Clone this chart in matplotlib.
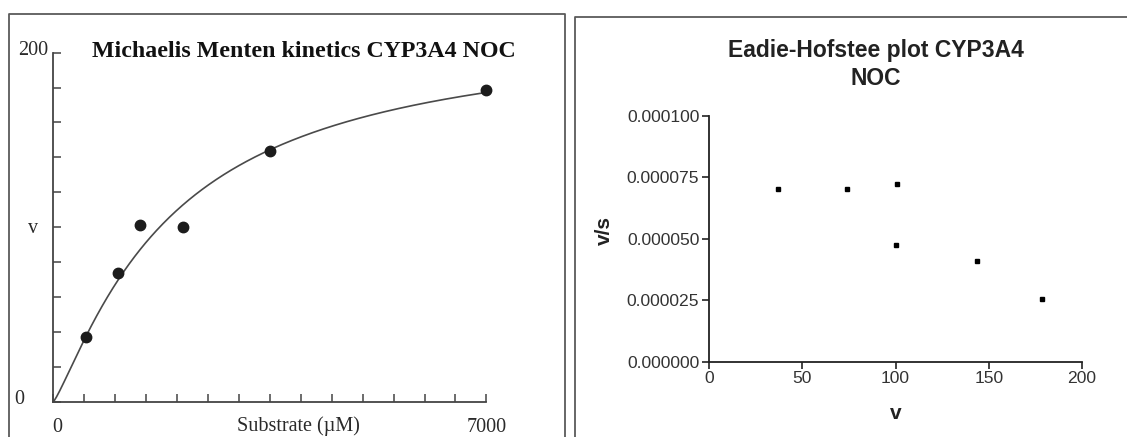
import numpy as np
import matplotlib.pyplot as plt
from matplotlib.lines import Line2D
from matplotlib.ticker import FormatStrFormatter

# substrate concentrations (uM) and measured rates for CYP3A4 NOC
substrate = [525, 1050, 1400, 2100, 3500, 7000]
velocity = [36.8, 73.8, 101.0, 100.0, 143.6, 178.6]

# parameters of the fitted saturation curve
vmax = 215.0
km = 1930.0
hill_n = 1.2

# Eadie-Hofstee transform (s in nM)
v_over_s = [v / (s * 1000.0) for v, s in zip(velocity, substrate)]

W, H = 1127, 437


def fx(px):
    return px / W


def fy(py):
    return 1 - py / H


plt.rcParams['font.family'] = ['Liberation Sans', 'DejaVu Sans']
fig = plt.figure(figsize=(W / 100, H / 100), dpi=100)

# panel frames
for x0, x1, y0 in [(9, 565, 14), (575, 1140, 17)]:
    fig.add_artist(Line2D([fx(x0), fx(x0), fx(x1), fx(x1)],
                          [fy(450), fy(y0), fy(y0), fy(450)],
                          transform=fig.transFigure, color='#5a5a5a', lw=1.3))

# --- Michaelis-Menten panel ---
ax1 = fig.add_axes([fx(53.3), fy(401.7), fx(486.4) - fx(53.3), fy(52.7) - fy(401.7)])
s_fit = np.linspace(0, 7000, 400)
v_fit = vmax * s_fit ** hill_n / (km ** hill_n + s_fit ** hill_n)
ax1.plot(s_fit, v_fit, color='#4a4a4a', lw=1.2)
ax1.plot(substrate, velocity, 'o', color='#1c1c1c', ms=7.5, clip_on=False)
ax1.set_xlim(0, 7000)
ax1.set_ylim(0, 200)
ax1.set_xticks(np.arange(0, 7001, 500))
ax1.set_yticks(np.arange(0, 201, 20))
ax1.tick_params(direction='in', length=6, width=1.1, color='#444444',
                labelbottom=False, labelleft=False)
for side in ['top', 'right']:
    ax1.spines[side].set_visible(False)
for side in ['left', 'bottom']:
    ax1.spines[side].set_color('#444444')
    ax1.spines[side].set_linewidth(1.3)

serif = dict(family='Liberation Serif', color='#2a2a2a', size=14.5)
fig.text(fx(304), fy(57.3), 'Michaelis Menten kinetics CYP3A4 NOC', ha='center',
         va='baseline', family='Liberation Serif', weight='bold', size=17.2, color='#111111')
fig.text(fx(18.3), fy(55), '200', ha='left', va='baseline', **serif)
fig.text(fx(19.5), fy(404), '0', ha='center', va='baseline', **serif)
fig.text(fx(33), fy(233), 'v', ha='center', va='baseline', **serif)
fig.text(fx(57.7), fy(432), '0', ha='center', va='baseline', **serif)
fig.text(fx(298), fy(431.5), 'Substrate (µM)', ha='center', va='baseline', **serif)
fig.text(fx(487), fy(432), '7000', ha='center', va='baseline', **serif)

# --- Eadie-Hofstee panel ---
ax2 = fig.add_axes([fx(709), fy(361.7), fx(1082) - fx(709), fy(116) - fy(361.7)])
ax2.plot(velocity, v_over_s, 's', color='black', ms=3.5, clip_on=False)
ax2.set_xlim(0, 200)
ax2.set_ylim(0, 0.0001)
ax2.set_xticks([0, 50, 100, 150, 200])
ax2.set_yticks([0, 0.000025, 0.00005, 0.000075, 0.0001])
ax2.yaxis.set_major_formatter(FormatStrFormatter('%.6f'))
ax2.tick_params(direction='out', length=5, width=1.2, color='#222222',
                labelsize=12.6, labelcolor='#333333', pad=2)
for side in ['top', 'right']:
    ax2.spines[side].set_visible(False)
for side in ['left', 'bottom']:
    ax2.spines[side].set_color('#222222')
    ax2.spines[side].set_linewidth(1.3)
ax2.set_xlabel('v', fontweight='bold', fontsize=15, labelpad=13, color='#222222')
ax2.set_ylabel('v/s', fontweight='bold', fontsize=15, color='#222222')
ax2.yaxis.set_label_coords(-0.255, 0.536)

fig.text(fx(876), fy(57.3), 'Eadie-Hofstee plot CYP3A4', ha='center', va='baseline',
         weight='bold', size=16.5, color='#222222')
fig.text(fx(876), fy(85), 'NOC', ha='center', va='baseline',
         weight='bold', size=16.5, color='#222222')

fig.savefig('out.png', dpi=100)
